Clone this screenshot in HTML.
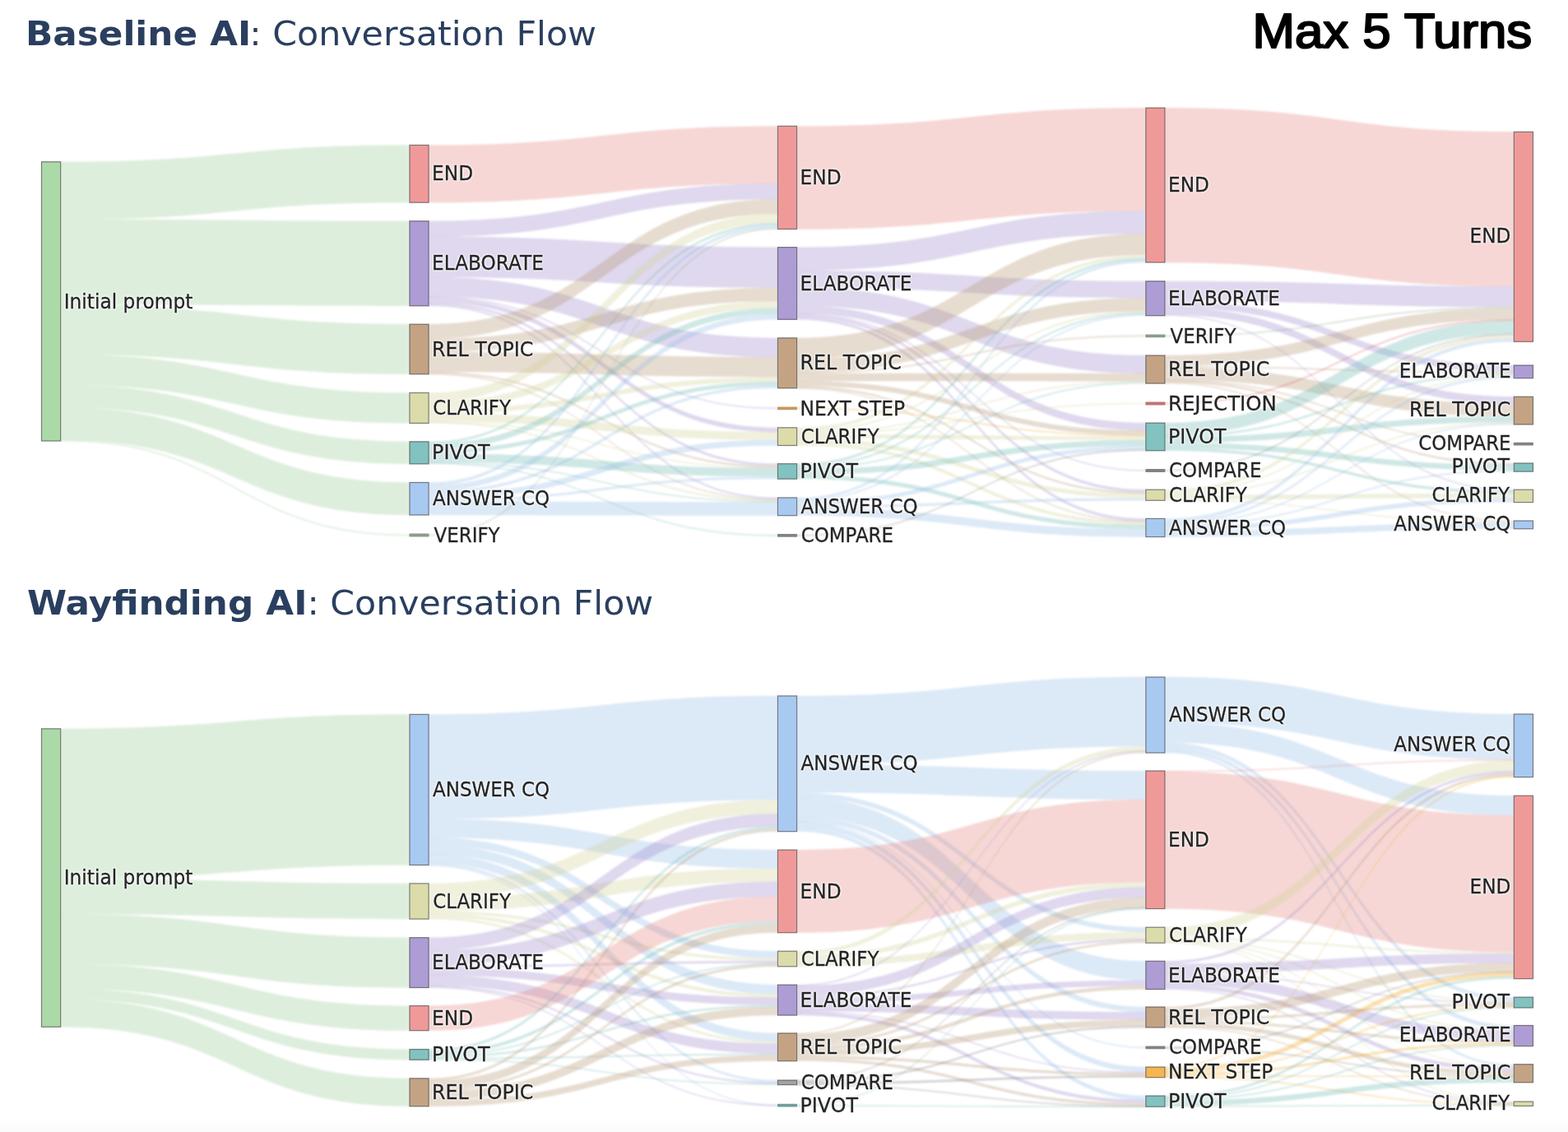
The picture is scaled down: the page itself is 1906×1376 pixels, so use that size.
<!DOCTYPE html>
<html lang="en">
<head>
<meta charset="utf-8">
<title>Conversation Flow</title>
<style>
html,body{margin:0;padding:0;background:#fff}
body{width:1906px;height:1376px;overflow:hidden;position:relative}
svg{position:absolute;left:0;top:0;display:block}
.sl{filter:blur(.8px)}
.sn{filter:blur(.45px)}
.st{filter:drop-shadow(0 0 1.3px #fff) drop-shadow(0 0 1.3px #fff) blur(.4px)}
.softt{filter:blur(.45px)}
.l{fill-opacity:0.32;stroke:none}
.n{stroke:#3a3a3a;stroke-opacity:.62;stroke-width:1.2}
.lb{font-family:"DejaVu Sans","Liberation Sans",sans-serif;font-size:24.2px;fill:#242424;
stroke:#242424;stroke-width:.3px;stroke-linejoin:round}
.tt{font-family:"DejaVu Sans","Liberation Sans",sans-serif;font-size:41.5px;fill:#2a3f5f}
.tb{font-weight:bold}
.mx{font-family:"Liberation Sans",sans-serif;font-weight:normal;font-size:60px;fill:#000;stroke:#000;stroke-width:2.2px;stroke-linejoin:round}
.IP{fill:#98ca95}
.END{fill:#e3827c}
.ELAB{fill:#9b85ca}
.REL{fill:#b4926c}
.CLAR{fill:#d0d095}
.PIV{fill:#69b7b1}
.ACQ{fill:#92bae6}
.VER{fill:#85a485}
.NEXT{fill:#f29e08}
.COMP{fill:#727272}
.REJ{fill:#da4747}
.nIP{fill:#acd9a8}
.nEND{fill:#ef9a98}
.nELAB{fill:#ae9cd5}
.nREL{fill:#c4a385}
.nCLAR{fill:#dcdbaa}
.nPIV{fill:#82c2c0}
.nACQ{fill:#a8c9f0}
.nVER{fill:#9bb09b}
.nNEXT{fill:#f5b651}
.nCOMP{fill:#a3a3a3}
.nREJ{fill:#c9787c}
.tVER{fill:#8a9d8c}
.tNEXT{fill:#c29a5e}
.tCOMP{fill:#828282}
.tREJ{fill:#c27474}
.tPIV{fill:#6f9e9b}
.tCLAR{fill:#b3b28c}
</style>
</head>
<body>
<svg width="1906" height="1376" viewBox="0 0 1906 1376">
<defs><linearGradient id="bg" x1="0" y1="0" x2="0" y2="1"><stop offset="0" stop-color="#fff"/><stop offset="1" stop-color="#fafafa"/></linearGradient></defs>
<rect x="0" y="0" width="1906" height="1376" fill="#fff"/>
<rect x="0" y="1360" width="1906" height="16" fill="url(#bg)"/>

<g id="baseline">
<g class="sl"><path class="l IP" d="M73.7,196.55C285.8,196.55 285.8,176.25 497.9,176.25L497.9,246.35C285.8,246.35 285.8,266.84 73.7,266.84Z"/>
<path class="l IP" d="M73.7,266.54C285.8,266.54 285.8,268.55 497.9,268.55L497.9,371.95C285.8,371.95 285.8,370.21 73.7,370.21Z"/>
<path class="l IP" d="M73.7,369.91C285.8,369.91 285.8,393.95 497.9,393.95L497.9,454.95C285.8,454.95 285.8,431.07 73.7,431.07Z"/>
<path class="l IP" d="M73.7,430.77C285.8,430.77 285.8,477.35 497.9,477.35L497.9,514.55C285.8,514.55 285.8,468.07 73.7,468.07Z"/>
<path class="l IP" d="M73.7,467.77C285.8,467.77 285.8,536.65 497.9,536.65L497.9,564.05C285.8,564.05 285.8,495.24 73.7,495.24Z"/>
<path class="l IP" d="M73.7,494.94C285.8,494.94 285.8,586.35 497.9,586.35L497.9,626.15C285.8,626.15 285.8,534.85 73.7,534.85Z"/>
<path class="l IP" d="M73.7,534.55C285.8,534.55 285.8,649.70 497.9,649.70L497.9,651.30C285.8,651.30 285.8,536.15 73.7,536.15Z"/>
<path class="l END" d="M521.1,176.25C733.3,176.25 733.3,153.15 945.4,153.15L945.4,223.25C733.3,223.25 733.3,246.35 521.1,246.35Z"/>
<path class="l ELAB" d="M521.1,268.55C733.3,268.55 733.3,222.95 945.4,222.95L945.4,242.21C733.3,242.21 733.3,287.80 521.1,287.80Z"/>
<path class="l ELAB" d="M521.1,287.50C733.3,287.50 733.3,300.45 945.4,300.45L945.4,350.05C733.3,350.05 733.3,337.08 521.1,337.08Z"/>
<path class="l ELAB" d="M521.1,336.78C733.3,336.78 733.3,410.65 945.4,410.65L945.4,434.28C733.3,434.28 733.3,360.40 521.1,360.40Z"/>
<path class="l ELAB" d="M521.1,360.10C733.3,360.10 733.3,495.60 945.4,495.60L945.4,497.20C733.3,497.20 733.3,361.70 521.1,361.70Z"/>
<path class="l ELAB" d="M521.1,361.40C733.3,361.40 733.3,519.65 945.4,519.65L945.4,525.49C733.3,525.49 733.3,367.24 521.1,367.24Z"/>
<path class="l ELAB" d="M521.1,366.94C733.3,366.94 733.3,563.55 945.4,563.55L945.4,566.69C733.3,566.69 733.3,370.08 521.1,370.08Z"/>
<path class="l ELAB" d="M521.1,369.78C733.3,369.78 733.3,604.75 945.4,604.75L945.4,606.92C733.3,606.92 733.3,371.95 521.1,371.95Z"/>
<path class="l REL" d="M521.1,393.95C733.3,393.95 733.3,241.91 945.4,241.91L945.4,260.00C733.3,260.00 733.3,412.03 521.1,412.03Z"/>
<path class="l REL" d="M521.1,411.73C733.3,411.73 733.3,349.75 945.4,349.75L945.4,366.02C733.3,366.02 733.3,428.00 521.1,428.00Z"/>
<path class="l REL" d="M521.1,427.70C733.3,427.70 733.3,433.98 945.4,433.98L945.4,458.43C733.3,458.43 733.3,452.14 521.1,452.14Z"/>
<path class="l REL" d="M521.1,451.84C733.3,451.84 733.3,566.39 945.4,566.39L945.4,568.57C733.3,568.57 733.3,454.02 521.1,454.02Z"/>
<path class="l REL" d="M521.1,453.72C733.3,453.72 733.3,606.62 945.4,606.62L945.4,608.12C733.3,608.12 733.3,455.22 521.1,455.22Z"/>
<path class="l CLAR" d="M521.1,477.35C733.3,477.35 733.3,259.70 945.4,259.70L945.4,271.03C733.3,271.03 733.3,488.67 521.1,488.67Z"/>
<path class="l CLAR" d="M521.1,488.37C733.3,488.37 733.3,365.72 945.4,365.72L945.4,374.49C733.3,374.49 733.3,497.15 521.1,497.15Z"/>
<path class="l CLAR" d="M521.1,496.85C733.3,496.85 733.3,458.13 945.4,458.13L945.4,464.13C733.3,464.13 733.3,502.84 521.1,502.84Z"/>
<path class="l CLAR" d="M521.1,502.54C733.3,502.54 733.3,525.19 945.4,525.19L945.4,534.83C733.3,534.83 733.3,512.18 521.1,512.18Z"/>
<path class="l CLAR" d="M521.1,511.88C733.3,511.88 733.3,568.27 945.4,568.27L945.4,569.77C733.3,569.77 733.3,513.38 521.1,513.38Z"/>
<path class="l CLAR" d="M521.1,512.50C733.3,512.50 733.3,607.55 945.4,607.55L945.4,609.60C733.3,609.60 733.3,514.55 521.1,514.55Z"/>
<path class="l PIV" d="M521.1,536.65C733.3,536.65 733.3,270.73 945.4,270.73L945.4,273.67C733.3,273.67 733.3,539.59 521.1,539.59Z"/>
<path class="l PIV" d="M521.1,539.29C733.3,539.29 733.3,374.19 945.4,374.19L945.4,381.75C733.3,381.75 733.3,546.84 521.1,546.84Z"/>
<path class="l PIV" d="M521.1,546.54C733.3,546.54 733.3,463.83 945.4,463.83L945.4,468.83C733.3,468.83 733.3,551.54 521.1,551.54Z"/>
<path class="l PIV" d="M521.1,551.24C733.3,551.24 733.3,568.89 945.4,568.89L945.4,579.44C733.3,579.44 733.3,561.79 521.1,561.79Z"/>
<path class="l PIV" d="M521.1,561.49C733.3,561.49 733.3,609.30 945.4,609.30L945.4,610.80C733.3,610.80 733.3,562.99 521.1,562.99Z"/>
<path class="l PIV" d="M521.1,562.45C733.3,562.45 733.3,650.05 945.4,650.05L945.4,651.65C733.3,651.65 733.3,564.05 521.1,564.05Z"/>
<path class="l ACQ" d="M521.1,586.35C733.3,586.35 733.3,273.37 945.4,273.37L945.4,277.35C733.3,277.35 733.3,590.32 521.1,590.32Z"/>
<path class="l ACQ" d="M521.1,590.02C733.3,590.02 733.3,381.45 945.4,381.45L945.4,388.45C733.3,388.45 733.3,597.02 521.1,597.02Z"/>
<path class="l ACQ" d="M521.1,596.72C733.3,596.72 733.3,468.53 945.4,468.53L945.4,471.95C733.3,471.95 733.3,600.14 521.1,600.14Z"/>
<path class="l ACQ" d="M521.1,599.84C733.3,599.84 733.3,534.53 945.4,534.53L945.4,541.65C733.3,541.65 733.3,606.96 521.1,606.96Z"/>
<path class="l ACQ" d="M521.1,606.66C733.3,606.66 733.3,579.14 945.4,579.14L945.4,582.35C733.3,582.35 733.3,609.87 521.1,609.87Z"/>
<path class="l ACQ" d="M521.1,609.57C733.3,609.57 733.3,610.26 945.4,610.26L945.4,626.85C733.3,626.85 733.3,626.15 521.1,626.15Z"/>
<path class="l VER" d="M521.1,649.70C733.3,649.70 733.3,277.05 945.4,277.05L945.4,278.65C733.3,278.65 733.3,651.30 521.1,651.30Z"/>
<path class="l END" d="M968.6,153.15C1180.7,153.15 1180.7,130.95 1392.8,130.95L1392.8,256.45C1180.7,256.45 1180.7,278.65 968.6,278.65Z"/>
<path class="l ELAB" d="M968.6,300.45C1180.7,300.45 1180.7,256.15 1392.8,256.15L1392.8,284.25C1180.7,284.25 1180.7,328.97 968.6,328.97Z"/>
<path class="l ELAB" d="M968.6,328.67C1180.7,328.67 1180.7,341.65 1392.8,341.65L1392.8,362.33C1180.7,362.33 1180.7,349.46 968.6,349.46Z"/>
<path class="l ELAB" d="M968.6,349.16C1180.7,349.16 1180.7,431.85 1392.8,431.85L1392.8,454.18C1180.7,454.18 1180.7,371.59 968.6,371.59Z"/>
<path class="l ELAB" d="M968.6,371.29C1180.7,371.29 1180.7,513.95 1392.8,513.95L1392.8,523.36C1180.7,523.36 1180.7,380.75 968.6,380.75Z"/>
<path class="l ELAB" d="M968.6,380.45C1180.7,380.45 1180.7,571.20 1392.8,571.20L1392.8,572.80C1180.7,572.80 1180.7,382.06 968.6,382.06Z"/>
<path class="l ELAB" d="M968.6,381.76C1180.7,381.76 1180.7,595.05 1392.8,595.05L1392.8,598.56C1180.7,598.56 1180.7,385.29 968.6,385.29Z"/>
<path class="l ELAB" d="M968.6,384.99C1180.7,384.99 1180.7,630.25 1392.8,630.25L1392.8,633.69C1180.7,633.69 1180.7,388.45 968.6,388.45Z"/>
<path class="l REL" d="M968.6,410.65C1180.7,410.65 1180.7,283.95 1392.8,283.95L1392.8,309.76C1180.7,309.76 1180.7,436.84 968.6,436.84Z"/>
<path class="l REL" d="M968.6,436.54C1180.7,436.54 1180.7,362.03 1392.8,362.03L1392.8,378.16C1180.7,378.16 1180.7,452.75 968.6,452.75Z"/>
<path class="l REL" d="M968.6,452.45C1180.7,452.45 1180.7,407.60 1392.8,407.60L1392.8,409.20C1180.7,409.20 1180.7,454.06 968.6,454.06Z"/>
<path class="l REL" d="M968.6,453.76C1180.7,453.76 1180.7,453.88 1392.8,453.88L1392.8,463.40C1180.7,463.40 1180.7,463.32 968.6,463.32Z"/>
<path class="l REL" d="M968.6,463.02C1180.7,463.02 1180.7,523.06 1392.8,523.06L1392.8,529.25C1180.7,529.25 1180.7,469.25 968.6,469.25Z"/>
<path class="l REL" d="M968.6,468.95C1180.7,468.95 1180.7,598.26 1392.8,598.26L1392.8,600.64C1180.7,600.64 1180.7,471.34 968.6,471.34Z"/>
<path class="l REL" d="M968.6,471.04C1180.7,471.04 1180.7,633.39 1392.8,633.39L1392.8,634.89C1180.7,634.89 1180.7,472.54 968.6,472.54Z"/>
<path class="l NEXT" d="M968.6,495.60C1180.7,495.60 1180.7,528.95 1392.8,528.95L1392.8,530.55C1180.7,530.55 1180.7,497.20 968.6,497.20Z"/>
<path class="l CLAR" d="M968.6,519.65C1180.7,519.65 1180.7,309.46 1392.8,309.46L1392.8,313.45C1180.7,313.45 1180.7,523.69 968.6,523.69Z"/>
<path class="l CLAR" d="M968.6,523.39C1180.7,523.39 1180.7,377.86 1392.8,377.86L1392.8,380.02C1180.7,380.02 1180.7,525.56 968.6,525.56Z"/>
<path class="l CLAR" d="M968.6,525.26C1180.7,525.26 1180.7,463.10 1392.8,463.10L1392.8,464.78C1180.7,464.78 1180.7,526.95 968.6,526.95Z"/>
<path class="l CLAR" d="M968.6,526.65C1180.7,526.65 1180.7,489.70 1392.8,489.70L1392.8,491.30C1180.7,491.30 1180.7,528.26 968.6,528.26Z"/>
<path class="l CLAR" d="M968.6,527.96C1180.7,527.96 1180.7,530.25 1392.8,530.25L1392.8,535.17C1180.7,535.17 1180.7,532.90 968.6,532.90Z"/>
<path class="l CLAR" d="M968.6,532.60C1180.7,532.60 1180.7,600.34 1392.8,600.34L1392.8,605.53C1180.7,605.53 1180.7,537.81 968.6,537.81Z"/>
<path class="l CLAR" d="M968.6,537.51C1180.7,537.51 1180.7,634.01 1392.8,634.01L1392.8,638.13C1180.7,638.13 1180.7,541.65 968.6,541.65Z"/>
<path class="l PIV" d="M968.6,563.55C1180.7,563.55 1180.7,313.15 1392.8,313.15L1392.8,316.39C1180.7,316.39 1180.7,566.84 968.6,566.84Z"/>
<path class="l PIV" d="M968.6,566.54C1180.7,566.54 1180.7,379.72 1392.8,379.72L1392.8,382.00C1180.7,382.00 1180.7,568.83 968.6,568.83Z"/>
<path class="l PIV" d="M968.6,568.53C1180.7,568.53 1180.7,464.48 1392.8,464.48L1392.8,466.25C1180.7,466.25 1180.7,570.31 968.6,570.31Z"/>
<path class="l PIV" d="M968.6,570.01C1180.7,570.01 1180.7,534.87 1392.8,534.87L1392.8,542.05C1180.7,542.05 1180.7,577.23 968.6,577.23Z"/>
<path class="l PIV" d="M968.6,576.93C1180.7,576.93 1180.7,637.83 1392.8,637.83L1392.8,643.22C1180.7,643.22 1180.7,582.35 968.6,582.35Z"/>
<path class="l ACQ" d="M968.6,604.75C1180.7,604.75 1180.7,316.09 1392.8,316.09L1392.8,319.15C1180.7,319.15 1180.7,607.85 968.6,607.85Z"/>
<path class="l ACQ" d="M968.6,607.55C1180.7,607.55 1180.7,381.70 1392.8,381.70L1392.8,383.85C1180.7,383.85 1180.7,609.71 968.6,609.71Z"/>
<path class="l ACQ" d="M968.6,609.41C1180.7,609.41 1180.7,541.75 1392.8,541.75L1392.8,546.65C1180.7,546.65 1180.7,614.34 968.6,614.34Z"/>
<path class="l ACQ" d="M968.6,614.04C1180.7,614.04 1180.7,605.23 1392.8,605.23L1392.8,608.45C1180.7,608.45 1180.7,617.27 968.6,617.27Z"/>
<path class="l ACQ" d="M968.6,616.97C1180.7,616.97 1180.7,642.92 1392.8,642.92L1392.8,652.75C1180.7,652.75 1180.7,626.85 968.6,626.85Z"/>
<path class="l COMP" d="M968.6,650.05C1180.7,650.05 1180.7,546.35 1392.8,546.35L1392.8,547.95C1180.7,547.95 1180.7,651.65 968.6,651.65Z"/>
<path class="l END" d="M1416.0,130.95C1628.2,130.95 1628.2,160.15 1840.3,160.15L1840.3,348.35C1628.2,348.35 1628.2,319.15 1416.0,319.15Z"/>
<path class="l ELAB" d="M1416.0,341.65C1628.2,341.65 1628.2,348.05 1840.3,348.05L1840.3,373.45C1628.2,373.45 1628.2,365.75 1416.0,365.75Z"/>
<path class="l ELAB" d="M1416.0,365.45C1628.2,365.45 1628.2,443.85 1840.3,443.85L1840.3,452.23C1628.2,452.23 1628.2,373.73 1416.0,373.73Z"/>
<path class="l ELAB" d="M1416.0,373.43C1628.2,373.43 1628.2,482.05 1840.3,482.05L1840.3,491.20C1628.2,491.20 1628.2,382.46 1416.0,382.46Z"/>
<path class="l ELAB" d="M1416.0,382.16C1628.2,382.16 1628.2,595.05 1840.3,595.05L1840.3,596.75C1628.2,596.75 1628.2,383.85 1416.0,383.85Z"/>
<path class="l VER" d="M1416.0,407.60C1628.2,407.60 1628.2,373.15 1840.3,373.15L1840.3,374.75C1628.2,374.75 1628.2,409.20 1416.0,409.20Z"/>
<path class="l REL" d="M1416.0,431.85C1628.2,431.85 1628.2,374.45 1840.3,374.45L1840.3,388.60C1628.2,388.60 1628.2,445.28 1416.0,445.28Z"/>
<path class="l REL" d="M1416.0,444.98C1628.2,444.98 1628.2,451.93 1840.3,451.93L1840.3,453.78C1628.2,453.78 1628.2,446.80 1416.0,446.80Z"/>
<path class="l REL" d="M1416.0,446.50C1628.2,446.50 1628.2,490.90 1840.3,490.90L1840.3,506.23C1628.2,506.23 1628.2,461.64 1416.0,461.64Z"/>
<path class="l REL" d="M1416.0,461.34C1628.2,461.34 1628.2,538.80 1840.3,538.80L1840.3,540.40C1628.2,540.40 1628.2,462.92 1416.0,462.92Z"/>
<path class="l REL" d="M1416.0,462.62C1628.2,462.62 1628.2,562.85 1840.3,562.85L1840.3,565.30C1628.2,565.30 1628.2,465.04 1416.0,465.04Z"/>
<path class="l REL" d="M1416.0,464.74C1628.2,464.74 1628.2,632.85 1840.3,632.85L1840.3,634.37C1628.2,634.37 1628.2,466.25 1416.0,466.25Z"/>
<path class="l REJ" d="M1416.0,489.70C1628.2,489.70 1628.2,388.30 1840.3,388.30L1840.3,389.90C1628.2,389.90 1628.2,491.30 1416.0,491.30Z"/>
<path class="l PIV" d="M1416.0,513.95C1628.2,513.95 1628.2,389.60 1840.3,389.60L1840.3,405.87C1628.2,405.87 1628.2,529.38 1416.0,529.38Z"/>
<path class="l PIV" d="M1416.0,529.08C1628.2,529.08 1628.2,453.48 1840.3,453.48L1840.3,455.83C1628.2,455.83 1628.2,531.41 1416.0,531.41Z"/>
<path class="l PIV" d="M1416.0,531.11C1628.2,531.11 1628.2,505.93 1840.3,505.93L1840.3,513.23C1628.2,513.23 1628.2,538.32 1416.0,538.32Z"/>
<path class="l PIV" d="M1416.0,538.02C1628.2,538.02 1628.2,565.00 1840.3,565.00L1840.3,571.76C1628.2,571.76 1628.2,544.69 1416.0,544.69Z"/>
<path class="l PIV" d="M1416.0,544.39C1628.2,544.39 1628.2,596.45 1840.3,596.45L1840.3,600.05C1628.2,600.05 1628.2,547.95 1416.0,547.95Z"/>
<path class="l COMP" d="M1416.0,571.20C1628.2,571.20 1628.2,405.57 1840.3,405.57L1840.3,407.17C1628.2,407.17 1628.2,572.80 1416.0,572.80Z"/>
<path class="l CLAR" d="M1416.0,595.05C1628.2,595.05 1628.2,406.87 1840.3,406.87L1840.3,411.25C1628.2,411.25 1628.2,599.22 1416.0,599.22Z"/>
<path class="l CLAR" d="M1416.0,598.92C1628.2,598.92 1628.2,455.53 1840.3,455.53L1840.3,457.31C1628.2,457.31 1628.2,600.68 1416.0,600.68Z"/>
<path class="l CLAR" d="M1416.0,600.38C1628.2,600.38 1628.2,512.93 1840.3,512.93L1840.3,514.67C1628.2,514.67 1628.2,602.10 1416.0,602.10Z"/>
<path class="l CLAR" d="M1416.0,601.80C1628.2,601.80 1628.2,599.75 1840.3,599.75L1840.3,605.32C1628.2,605.32 1628.2,607.30 1416.0,607.30Z"/>
<path class="l CLAR" d="M1416.0,607.00C1628.2,607.00 1628.2,634.07 1840.3,634.07L1840.3,635.57C1628.2,635.57 1628.2,608.50 1416.0,608.50Z"/>
<path class="l ACQ" d="M1416.0,630.25C1628.2,630.25 1628.2,410.95 1840.3,410.95L1840.3,415.45C1628.2,415.45 1628.2,634.54 1416.0,634.54Z"/>
<path class="l ACQ" d="M1416.0,634.24C1628.2,634.24 1628.2,457.01 1840.3,457.01L1840.3,459.85C1628.2,459.85 1628.2,637.04 1416.0,637.04Z"/>
<path class="l ACQ" d="M1416.0,636.74C1628.2,636.74 1628.2,514.37 1840.3,514.37L1840.3,516.15C1628.2,516.15 1628.2,638.50 1416.0,638.50Z"/>
<path class="l ACQ" d="M1416.0,638.20C1628.2,638.20 1628.2,571.46 1840.3,571.46L1840.3,573.35C1628.2,573.35 1628.2,640.08 1416.0,640.08Z"/>
<path class="l ACQ" d="M1416.0,639.78C1628.2,639.78 1628.2,605.02 1840.3,605.02L1840.3,610.75C1628.2,610.75 1628.2,645.44 1416.0,645.44Z"/>
<path class="l ACQ" d="M1416.0,645.14C1628.2,645.14 1628.2,635.24 1840.3,635.24L1840.3,642.95C1628.2,642.95 1628.2,652.75 1416.0,652.75Z"/></g>
<g class="sn"><rect class="n nIP" x="50.5" y="196.7" width="23.2" height="339.3"/>
<rect class="n nEND" x="497.9" y="176.4" width="23.2" height="69.8"/>
<rect class="n nELAB" x="497.9" y="268.7" width="23.2" height="103.1"/>
<rect class="n nREL" x="497.9" y="394.1" width="23.2" height="60.7"/>
<rect class="n nCLAR" x="497.9" y="477.5" width="23.2" height="36.9"/>
<rect class="n nPIV" x="497.9" y="536.8" width="23.2" height="27.1"/>
<rect class="n nACQ" x="497.9" y="586.5" width="23.2" height="39.5"/>
<rect class="tVER" x="497.4" y="648.6" width="24.2" height="3.8" rx="1"/>
<rect class="n nEND" x="945.4" y="153.3" width="23.2" height="125.2"/>
<rect class="n nELAB" x="945.4" y="300.6" width="23.2" height="87.7"/>
<rect class="n nREL" x="945.4" y="410.8" width="23.2" height="61.0"/>
<rect class="tNEXT" x="944.9" y="494.5" width="24.2" height="3.8" rx="1"/>
<rect class="n nCLAR" x="945.4" y="519.8" width="23.2" height="21.7"/>
<rect class="n nPIV" x="945.4" y="563.7" width="23.2" height="18.5"/>
<rect class="n nACQ" x="945.4" y="604.9" width="23.2" height="21.8"/>
<rect class="tCOMP" x="944.9" y="649.0" width="24.2" height="3.8" rx="1"/>
<rect class="n nEND" x="1392.8" y="131.1" width="23.2" height="187.9"/>
<rect class="n nELAB" x="1392.8" y="341.8" width="23.2" height="41.9"/>
<rect class="tVER" x="1392.3" y="406.5" width="24.2" height="3.8" rx="1"/>
<rect class="n nREL" x="1392.8" y="432.0" width="23.2" height="34.1"/>
<rect class="tREJ" x="1392.3" y="488.6" width="24.2" height="3.8" rx="1"/>
<rect class="n nPIV" x="1392.8" y="514.1" width="23.2" height="33.7"/>
<rect class="tCOMP" x="1392.3" y="570.1" width="24.2" height="3.8" rx="1"/>
<rect class="n nCLAR" x="1392.8" y="595.2" width="23.2" height="13.1"/>
<rect class="n nACQ" x="1392.8" y="630.4" width="23.2" height="22.2"/>
<rect class="n nEND" x="1840.3" y="160.3" width="23.2" height="255.0"/>
<rect class="n nELAB" x="1840.3" y="444.0" width="23.2" height="15.7"/>
<rect class="n nREL" x="1840.3" y="482.2" width="23.2" height="33.8"/>
<rect class="tCOMP" x="1839.8" y="537.7" width="24.2" height="3.8" rx="1"/>
<rect class="n nPIV" x="1840.3" y="563.0" width="23.2" height="10.2"/>
<rect class="n nCLAR" x="1840.3" y="595.2" width="23.2" height="15.4"/>
<rect class="n nACQ" x="1840.3" y="633.0" width="23.2" height="9.8"/></g>
<g class="st"><text class="lb" x="77.7" y="374.5" textLength="156.7" lengthAdjust="spacingAndGlyphs">Initial prompt</text>
<text class="lb" x="525.1" y="219.4" textLength="50.0" lengthAdjust="spacingAndGlyphs">END</text>
<text class="lb" x="525.1" y="328.4" textLength="135.8" lengthAdjust="spacingAndGlyphs">ELABORATE</text>
<text class="lb" x="525.1" y="432.6" textLength="123.3" lengthAdjust="spacingAndGlyphs">REL TOPIC</text>
<text class="lb" x="526.2" y="504.1" textLength="94.7" lengthAdjust="spacingAndGlyphs">CLARIFY</text>
<text class="lb" x="525.1" y="558.4" textLength="70.5" lengthAdjust="spacingAndGlyphs">PIVOT</text>
<text class="lb" x="526.1" y="614.4" textLength="142.1" lengthAdjust="spacingAndGlyphs">ANSWER CQ</text>
<text class="lb" x="527.6" y="658.6" textLength="80.0" lengthAdjust="spacingAndGlyphs">VERIFY</text>
<text class="lb" x="972.6" y="224.0" textLength="50.0" lengthAdjust="spacingAndGlyphs">END</text>
<text class="lb" x="972.6" y="352.6" textLength="135.8" lengthAdjust="spacingAndGlyphs">ELABORATE</text>
<text class="lb" x="972.5" y="449.4" textLength="123.3" lengthAdjust="spacingAndGlyphs">REL TOPIC</text>
<text class="lb" x="972.6" y="504.5" textLength="127.4" lengthAdjust="spacingAndGlyphs">NEXT STEP</text>
<text class="lb" x="973.7" y="538.8" textLength="94.7" lengthAdjust="spacingAndGlyphs">CLARIFY</text>
<text class="lb" x="972.5" y="581.1" textLength="70.5" lengthAdjust="spacingAndGlyphs">PIVOT</text>
<text class="lb" x="973.5" y="623.9" textLength="142.1" lengthAdjust="spacingAndGlyphs">ANSWER CQ</text>
<text class="lb" x="973.7" y="659.0" textLength="112.3" lengthAdjust="spacingAndGlyphs">COMPARE</text>
<text class="lb" x="1420.0" y="233.2" textLength="50.0" lengthAdjust="spacingAndGlyphs">END</text>
<text class="lb" x="1420.0" y="370.9" textLength="135.8" lengthAdjust="spacingAndGlyphs">ELABORATE</text>
<text class="lb" x="1422.5" y="416.5" textLength="80.0" lengthAdjust="spacingAndGlyphs">VERIFY</text>
<text class="lb" x="1420.0" y="457.2" textLength="123.3" lengthAdjust="spacingAndGlyphs">REL TOPIC</text>
<text class="lb" x="1419.9" y="498.6" textLength="132.0" lengthAdjust="spacingAndGlyphs">REJECTION</text>
<text class="lb" x="1420.0" y="539.1" textLength="70.5" lengthAdjust="spacingAndGlyphs">PIVOT</text>
<text class="lb" x="1421.1" y="580.1" textLength="112.3" lengthAdjust="spacingAndGlyphs">COMPARE</text>
<text class="lb" x="1421.1" y="609.9" textLength="94.7" lengthAdjust="spacingAndGlyphs">CLARIFY</text>
<text class="lb" x="1421.0" y="649.6" textLength="142.1" lengthAdjust="spacingAndGlyphs">ANSWER CQ</text>
<text class="lb" x="1786.5" y="294.9" textLength="50.0" lengthAdjust="spacingAndGlyphs">END</text>
<text class="lb" x="1700.8" y="459.0" textLength="135.8" lengthAdjust="spacingAndGlyphs">ELABORATE</text>
<text class="lb" x="1713.1" y="506.2" textLength="123.3" lengthAdjust="spacingAndGlyphs">REL TOPIC</text>
<text class="lb" x="1724.3" y="546.7" textLength="112.3" lengthAdjust="spacingAndGlyphs">COMPARE</text>
<text class="lb" x="1764.6" y="575.2" textLength="70.5" lengthAdjust="spacingAndGlyphs">PIVOT</text>
<text class="lb" x="1740.4" y="610.0" textLength="94.7" lengthAdjust="spacingAndGlyphs">CLARIFY</text>
<text class="lb" x="1694.3" y="645.0" textLength="142.1" lengthAdjust="spacingAndGlyphs">ANSWER CQ</text></g>
</g>
<g id="wayfinding">
<g class="sl"><path class="l IP" d="M73.7,885.65C285.8,885.65 285.8,868.25 497.9,868.25L497.9,1051.65C285.8,1051.65 285.8,1068.30 73.7,1068.30Z"/>
<path class="l IP" d="M73.7,1068.00C285.8,1068.00 285.8,1073.75 497.9,1073.75L497.9,1117.25C285.8,1117.25 285.8,1111.32 73.7,1111.32Z"/>
<path class="l IP" d="M73.7,1111.02C285.8,1111.02 285.8,1139.55 497.9,1139.55L497.9,1200.65C285.8,1200.65 285.8,1171.87 73.7,1171.87Z"/>
<path class="l IP" d="M73.7,1171.57C285.8,1171.57 285.8,1222.45 497.9,1222.45L497.9,1252.85C285.8,1252.85 285.8,1201.84 73.7,1201.84Z"/>
<path class="l IP" d="M73.7,1201.54C285.8,1201.54 285.8,1275.35 497.9,1275.35L497.9,1288.45C285.8,1288.45 285.8,1214.59 73.7,1214.59Z"/>
<path class="l IP" d="M73.7,1214.29C285.8,1214.29 285.8,1310.65 497.9,1310.65L497.9,1344.95C285.8,1344.95 285.8,1248.45 73.7,1248.45Z"/>
<path class="l ACQ" d="M521.1,868.25C733.3,868.25 733.3,845.75 945.4,845.75L945.4,972.20C733.3,972.20 733.3,995.50 521.1,995.50Z"/>
<path class="l ACQ" d="M521.1,995.20C733.3,995.20 733.3,1032.95 945.4,1032.95L945.4,1055.69C733.3,1055.69 733.3,1018.14 521.1,1018.14Z"/>
<path class="l ACQ" d="M521.1,1017.84C733.3,1017.84 733.3,1156.05 945.4,1156.05L945.4,1165.16C733.3,1165.16 733.3,1027.01 521.1,1027.01Z"/>
<path class="l ACQ" d="M521.1,1026.71C733.3,1026.71 733.3,1196.95 945.4,1196.95L945.4,1208.55C733.3,1208.55 733.3,1038.38 521.1,1038.38Z"/>
<path class="l ACQ" d="M521.1,1038.08C733.3,1038.08 733.3,1255.75 945.4,1255.75L945.4,1266.22C733.3,1266.22 733.3,1048.61 521.1,1048.61Z"/>
<path class="l ACQ" d="M521.1,1048.31C733.3,1048.31 733.3,1312.85 945.4,1312.85L945.4,1315.84C733.3,1315.84 733.3,1051.33 521.1,1051.33Z"/>
<path class="l ACQ" d="M521.1,1051.03C733.3,1051.03 733.3,1342.80 945.4,1342.80L945.4,1344.30C733.3,1344.30 733.3,1052.53 521.1,1052.53Z"/>
<path class="l CLAR" d="M521.1,1073.75C733.3,1073.75 733.3,971.90 945.4,971.90L945.4,989.25C733.3,989.25 733.3,1091.21 521.1,1091.21Z"/>
<path class="l CLAR" d="M521.1,1090.91C733.3,1090.91 733.3,1055.39 945.4,1055.39L945.4,1071.71C733.3,1071.71 733.3,1107.37 521.1,1107.37Z"/>
<path class="l CLAR" d="M521.1,1107.07C733.3,1107.07 733.3,1164.86 945.4,1164.86L945.4,1168.33C733.3,1168.33 733.3,1110.56 521.1,1110.56Z"/>
<path class="l CLAR" d="M521.1,1110.26C733.3,1110.26 733.3,1208.25 945.4,1208.25L945.4,1212.52C733.3,1212.52 733.3,1114.56 521.1,1114.56Z"/>
<path class="l CLAR" d="M521.1,1114.26C733.3,1114.26 733.3,1265.92 945.4,1265.92L945.4,1268.89C733.3,1268.89 733.3,1117.25 521.1,1117.25Z"/>
<path class="l ELAB" d="M521.1,1139.55C733.3,1139.55 733.3,988.95 945.4,988.95L945.4,1004.74C733.3,1004.74 733.3,1155.44 521.1,1155.44Z"/>
<path class="l ELAB" d="M521.1,1155.14C733.3,1155.14 733.3,1071.41 945.4,1071.41L945.4,1089.96C733.3,1089.96 733.3,1173.85 521.1,1173.85Z"/>
<path class="l ELAB" d="M521.1,1173.55C733.3,1173.55 733.3,1168.03 945.4,1168.03L945.4,1170.70C733.3,1170.70 733.3,1176.24 521.1,1176.24Z"/>
<path class="l ELAB" d="M521.1,1175.94C733.3,1175.94 733.3,1212.22 945.4,1212.22L945.4,1221.86C733.3,1221.86 733.3,1185.63 521.1,1185.63Z"/>
<path class="l ELAB" d="M521.1,1185.33C733.3,1185.33 733.3,1268.59 945.4,1268.59L945.4,1281.02C733.3,1281.02 733.3,1197.84 521.1,1197.84Z"/>
<path class="l ELAB" d="M521.1,1197.54C733.3,1197.54 733.3,1315.54 945.4,1315.54L945.4,1317.66C733.3,1317.66 733.3,1199.67 521.1,1199.67Z"/>
<path class="l ELAB" d="M521.1,1199.37C733.3,1199.37 733.3,1343.12 945.4,1343.12L945.4,1344.62C733.3,1344.62 733.3,1200.87 521.1,1200.87Z"/>
<path class="l END" d="M521.1,1222.45C733.3,1222.45 733.3,1089.66 945.4,1089.66L945.4,1120.06C733.3,1120.06 733.3,1252.85 521.1,1252.85Z"/>
<path class="l PIV" d="M521.1,1275.35C733.3,1275.35 733.3,1004.44 945.4,1004.44L945.4,1007.81C733.3,1007.81 733.3,1278.74 521.1,1278.74Z"/>
<path class="l PIV" d="M521.1,1278.44C733.3,1278.44 733.3,1119.76 945.4,1119.76L945.4,1123.68C733.3,1123.68 733.3,1282.40 521.1,1282.40Z"/>
<path class="l PIV" d="M521.1,1282.10C733.3,1282.10 733.3,1170.40 945.4,1170.40L945.4,1172.13C733.3,1172.13 733.3,1283.84 521.1,1283.84Z"/>
<path class="l PIV" d="M521.1,1283.54C733.3,1283.54 733.3,1221.56 945.4,1221.56L945.4,1223.94C733.3,1223.94 733.3,1285.93 521.1,1285.93Z"/>
<path class="l PIV" d="M521.1,1285.63C733.3,1285.63 733.3,1280.72 945.4,1280.72L945.4,1282.43C733.3,1282.43 733.3,1287.35 521.1,1287.35Z"/>
<path class="l PIV" d="M521.1,1287.05C733.3,1287.05 733.3,1317.36 945.4,1317.36L945.4,1318.86C733.3,1318.86 733.3,1288.55 521.1,1288.55Z"/>
<path class="l REL" d="M521.1,1310.65C733.3,1310.65 733.3,1007.51 945.4,1007.51L945.4,1010.85C733.3,1010.85 733.3,1314.01 521.1,1314.01Z"/>
<path class="l REL" d="M521.1,1313.71C733.3,1313.71 733.3,1123.38 945.4,1123.38L945.4,1133.85C733.3,1133.85 733.3,1324.27 521.1,1324.27Z"/>
<path class="l REL" d="M521.1,1323.97C733.3,1323.97 733.3,1171.83 945.4,1171.83L945.4,1174.95C733.3,1174.95 733.3,1327.11 521.1,1327.11Z"/>
<path class="l REL" d="M521.1,1326.81C733.3,1326.81 733.3,1223.64 945.4,1223.64L945.4,1234.25C733.3,1234.25 733.3,1337.48 521.1,1337.48Z"/>
<path class="l REL" d="M521.1,1337.18C733.3,1337.18 733.3,1282.13 945.4,1282.13L945.4,1289.85C733.3,1289.85 733.3,1344.95 521.1,1344.95Z"/>
<path class="l ACQ" d="M968.6,845.75C1180.7,845.75 1180.7,822.85 1392.8,822.85L1392.8,907.36C1180.7,907.36 1180.7,929.45 968.6,929.45Z"/>
<path class="l ACQ" d="M968.6,929.15C1180.7,929.15 1180.7,936.85 1392.8,936.85L1392.8,971.99C1180.7,971.99 1180.7,963.45 968.6,963.45Z"/>
<path class="l ACQ" d="M968.6,963.15C1180.7,963.15 1180.7,1127.05 1392.8,1127.05L1392.8,1133.42C1180.7,1133.42 1180.7,969.46 968.6,969.46Z"/>
<path class="l ACQ" d="M968.6,969.16C1180.7,969.16 1180.7,1168.15 1392.8,1168.15L1392.8,1191.71C1180.7,1191.71 1180.7,992.49 968.6,992.49Z"/>
<path class="l ACQ" d="M968.6,992.19C1180.7,992.19 1180.7,1223.85 1392.8,1223.85L1392.8,1230.33C1180.7,1230.33 1180.7,998.62 968.6,998.62Z"/>
<path class="l ACQ" d="M968.6,998.32C1180.7,998.32 1180.7,1272.55 1392.8,1272.55L1392.8,1274.15C1180.7,1274.15 1180.7,999.91 968.6,999.91Z"/>
<path class="l ACQ" d="M968.6,999.61C1180.7,999.61 1180.7,1296.85 1392.8,1296.85L1392.8,1303.36C1180.7,1303.36 1180.7,1006.06 968.6,1006.06Z"/>
<path class="l ACQ" d="M968.6,1005.76C1180.7,1005.76 1180.7,1331.85 1392.8,1331.85L1392.8,1336.99C1180.7,1336.99 1180.7,1010.85 968.6,1010.85Z"/>
<path class="l END" d="M968.6,1032.95C1180.7,1032.95 1180.7,971.69 1392.8,971.69L1392.8,1072.59C1180.7,1072.59 1180.7,1133.85 968.6,1133.85Z"/>
<path class="l CLAR" d="M968.6,1156.05C1180.7,1156.05 1180.7,907.06 1392.8,907.06L1392.8,912.32C1180.7,912.32 1180.7,1161.26 968.6,1161.26Z"/>
<path class="l CLAR" d="M968.6,1160.96C1180.7,1160.96 1180.7,1072.29 1392.8,1072.29L1392.8,1078.49C1180.7,1078.49 1180.7,1167.02 968.6,1167.02Z"/>
<path class="l CLAR" d="M968.6,1166.72C1180.7,1166.72 1180.7,1133.12 1392.8,1133.12L1392.8,1141.42C1180.7,1141.42 1180.7,1174.95 968.6,1174.95Z"/>
<path class="l ELAB" d="M968.6,1196.95C1180.7,1196.95 1180.7,912.02 1392.8,912.02L1392.8,913.72C1180.7,913.72 1180.7,1198.63 968.6,1198.63Z"/>
<path class="l ELAB" d="M968.6,1198.33C1180.7,1198.33 1180.7,1078.19 1392.8,1078.19L1392.8,1091.01C1180.7,1091.01 1180.7,1210.85 968.6,1210.85Z"/>
<path class="l ELAB" d="M968.6,1210.55C1180.7,1210.55 1180.7,1141.12 1392.8,1141.12L1392.8,1143.77C1180.7,1143.77 1180.7,1213.18 968.6,1213.18Z"/>
<path class="l ELAB" d="M968.6,1212.88C1180.7,1212.88 1180.7,1191.41 1392.8,1191.41L1392.8,1198.43C1180.7,1198.43 1180.7,1219.84 968.6,1219.84Z"/>
<path class="l ELAB" d="M968.6,1219.54C1180.7,1219.54 1180.7,1230.03 1392.8,1230.03L1392.8,1239.91C1180.7,1239.91 1180.7,1229.33 968.6,1229.33Z"/>
<path class="l ELAB" d="M968.6,1229.03C1180.7,1229.03 1180.7,1303.06 1392.8,1303.06L1392.8,1304.56C1180.7,1304.56 1180.7,1230.53 968.6,1230.53Z"/>
<path class="l ELAB" d="M968.6,1229.99C1180.7,1229.99 1180.7,1336.69 1392.8,1336.69L1392.8,1340.99C1180.7,1340.99 1180.7,1234.25 968.6,1234.25Z"/>
<path class="l REL" d="M968.6,1255.75C1180.7,1255.75 1180.7,913.42 1392.8,913.42L1392.8,915.25C1180.7,915.25 1180.7,1257.57 968.6,1257.57Z"/>
<path class="l REL" d="M968.6,1257.27C1180.7,1257.27 1180.7,1090.71 1392.8,1090.71L1392.8,1103.17C1180.7,1103.17 1180.7,1269.44 968.6,1269.44Z"/>
<path class="l REL" d="M968.6,1269.14C1180.7,1269.14 1180.7,1143.47 1392.8,1143.47L1392.8,1146.35C1180.7,1146.35 1180.7,1271.99 968.6,1271.99Z"/>
<path class="l REL" d="M968.6,1271.69C1180.7,1271.69 1180.7,1198.13 1392.8,1198.13L1392.8,1202.65C1180.7,1202.65 1180.7,1276.17 968.6,1276.17Z"/>
<path class="l REL" d="M968.6,1275.87C1180.7,1275.87 1180.7,1239.61 1392.8,1239.61L1392.8,1247.27C1180.7,1247.27 1180.7,1283.45 968.6,1283.45Z"/>
<path class="l REL" d="M968.6,1283.15C1180.7,1283.15 1180.7,1304.02 1392.8,1304.02L1392.8,1307.49C1180.7,1307.49 1180.7,1286.59 968.6,1286.59Z"/>
<path class="l REL" d="M968.6,1286.29C1180.7,1286.29 1180.7,1340.69 1392.8,1340.69L1392.8,1344.28C1180.7,1344.28 1180.7,1289.85 968.6,1289.85Z"/>
<path class="l COMP" d="M968.6,1312.85C1180.7,1312.85 1180.7,1102.87 1392.8,1102.87L1392.8,1104.37C1180.7,1104.37 1180.7,1314.35 968.6,1314.35Z"/>
<path class="l COMP" d="M968.6,1313.76C1180.7,1313.76 1180.7,1246.97 1392.8,1246.97L1392.8,1249.15C1180.7,1249.15 1180.7,1315.93 968.6,1315.93Z"/>
<path class="l COMP" d="M968.6,1315.63C1180.7,1315.63 1180.7,1307.19 1392.8,1307.19L1392.8,1309.85C1180.7,1309.85 1180.7,1318.26 968.6,1318.26Z"/>
<path class="l COMP" d="M968.6,1317.96C1180.7,1317.96 1180.7,1343.98 1392.8,1343.98L1392.8,1345.48C1180.7,1345.48 1180.7,1319.46 968.6,1319.46Z"/>
<path class="l PIV" d="M968.6,1342.80C1180.7,1342.80 1180.7,1103.80 1392.8,1103.80L1392.8,1105.30C1180.7,1105.30 1180.7,1344.30 968.6,1344.30Z"/>
<path class="l PIV" d="M968.6,1343.43C1180.7,1343.43 1180.7,1344.47 1392.8,1344.47L1392.8,1345.97C1180.7,1345.97 1180.7,1344.93 968.6,1344.93Z"/>
<path class="l ACQ" d="M1416.0,822.85C1628.2,822.85 1628.2,867.85 1840.3,867.85L1840.3,923.41C1628.2,923.41 1628.2,878.50 1416.0,878.50Z"/>
<path class="l ACQ" d="M1416.0,878.20C1628.2,878.20 1628.2,967.05 1840.3,967.05L1840.3,991.35C1628.2,991.35 1628.2,902.55 1416.0,902.55Z"/>
<path class="l ACQ" d="M1416.0,902.25C1628.2,902.25 1628.2,1211.95 1840.3,1211.95L1840.3,1217.18C1628.2,1217.18 1628.2,907.49 1416.0,907.49Z"/>
<path class="l ACQ" d="M1416.0,907.19C1628.2,907.19 1628.2,1246.35 1840.3,1246.35L1840.3,1251.59C1628.2,1251.59 1628.2,912.43 1416.0,912.43Z"/>
<path class="l ACQ" d="M1416.0,912.13C1628.2,912.13 1628.2,1293.55 1840.3,1293.55L1840.3,1296.67C1628.2,1296.67 1628.2,915.25 1416.0,915.25Z"/>
<path class="l END" d="M1416.0,936.85C1628.2,936.85 1628.2,923.11 1840.3,923.11L1840.3,924.63C1628.2,924.63 1628.2,938.37 1416.0,938.37Z"/>
<path class="l END" d="M1416.0,938.07C1628.2,938.07 1628.2,991.05 1840.3,991.05L1840.3,1157.46C1628.2,1157.46 1628.2,1104.75 1416.0,1104.75Z"/>
<path class="l CLAR" d="M1416.0,1127.05C1628.2,1127.05 1628.2,924.33 1840.3,924.33L1840.3,937.07C1628.2,937.07 1628.2,1139.81 1416.0,1139.81Z"/>
<path class="l CLAR" d="M1416.0,1139.51C1628.2,1139.51 1628.2,1157.16 1840.3,1157.16L1840.3,1159.24C1628.2,1159.24 1628.2,1141.59 1416.0,1141.59Z"/>
<path class="l CLAR" d="M1416.0,1141.29C1628.2,1141.29 1628.2,1216.88 1840.3,1216.88L1840.3,1218.45C1628.2,1218.45 1628.2,1142.86 1416.0,1142.86Z"/>
<path class="l CLAR" d="M1416.0,1142.56C1628.2,1142.56 1628.2,1251.29 1840.3,1251.29L1840.3,1252.85C1628.2,1252.85 1628.2,1144.13 1416.0,1144.13Z"/>
<path class="l CLAR" d="M1416.0,1143.83C1628.2,1143.83 1628.2,1296.37 1840.3,1296.37L1840.3,1297.87C1628.2,1297.87 1628.2,1145.33 1416.0,1145.33Z"/>
<path class="l CLAR" d="M1416.0,1145.03C1628.2,1145.03 1628.2,1338.85 1840.3,1338.85L1840.3,1340.35C1628.2,1340.35 1628.2,1146.53 1416.0,1146.53Z"/>
<path class="l ELAB" d="M1416.0,1168.15C1628.2,1168.15 1628.2,936.77 1840.3,936.77L1840.3,940.21C1628.2,940.21 1628.2,1171.60 1416.0,1171.60Z"/>
<path class="l ELAB" d="M1416.0,1171.30C1628.2,1171.30 1628.2,1158.94 1840.3,1158.94L1840.3,1170.66C1628.2,1170.66 1628.2,1183.04 1416.0,1183.04Z"/>
<path class="l ELAB" d="M1416.0,1182.74C1628.2,1182.74 1628.2,1218.15 1840.3,1218.15L1840.3,1219.78C1628.2,1219.78 1628.2,1184.37 1416.0,1184.37Z"/>
<path class="l ELAB" d="M1416.0,1184.07C1628.2,1184.07 1628.2,1252.55 1840.3,1252.55L1840.3,1265.15C1628.2,1265.15 1628.2,1196.70 1416.0,1196.70Z"/>
<path class="l ELAB" d="M1416.0,1196.40C1628.2,1196.40 1628.2,1297.57 1840.3,1297.57L1840.3,1302.74C1628.2,1302.74 1628.2,1201.58 1416.0,1201.58Z"/>
<path class="l ELAB" d="M1416.0,1201.28C1628.2,1201.28 1628.2,1339.87 1840.3,1339.87L1840.3,1341.37C1628.2,1341.37 1628.2,1202.78 1416.0,1202.78Z"/>
<path class="l REL" d="M1416.0,1223.85C1628.2,1223.85 1628.2,939.91 1840.3,939.91L1840.3,943.40C1628.2,943.40 1628.2,1227.34 1416.0,1227.34Z"/>
<path class="l REL" d="M1416.0,1227.04C1628.2,1227.04 1628.2,1170.36 1840.3,1170.36L1840.3,1181.20C1628.2,1181.20 1628.2,1237.90 1416.0,1237.90Z"/>
<path class="l REL" d="M1416.0,1237.60C1628.2,1237.60 1628.2,1219.48 1840.3,1219.48L1840.3,1222.38C1628.2,1222.38 1628.2,1240.50 1416.0,1240.50Z"/>
<path class="l REL" d="M1416.0,1240.20C1628.2,1240.20 1628.2,1264.85 1840.3,1264.85L1840.3,1267.76C1628.2,1267.76 1628.2,1243.11 1416.0,1243.11Z"/>
<path class="l REL" d="M1416.0,1242.81C1628.2,1242.81 1628.2,1302.44 1840.3,1302.44L1840.3,1307.69C1628.2,1307.69 1628.2,1248.06 1416.0,1248.06Z"/>
<path class="l REL" d="M1416.0,1247.76C1628.2,1247.76 1628.2,1340.94 1840.3,1340.94L1840.3,1342.44C1628.2,1342.44 1628.2,1249.26 1416.0,1249.26Z"/>
<path class="l COMP" d="M1416.0,1272.55C1628.2,1272.55 1628.2,1180.90 1840.3,1180.90L1840.3,1182.40C1628.2,1182.40 1628.2,1274.05 1416.0,1274.05Z"/>
<path class="l COMP" d="M1416.0,1273.22C1628.2,1273.22 1628.2,1307.39 1840.3,1307.39L1840.3,1308.89C1628.2,1308.89 1628.2,1274.72 1416.0,1274.72Z"/>
<path class="l NEXT" d="M1416.0,1296.85C1628.2,1296.85 1628.2,943.10 1840.3,943.10L1840.3,944.75C1628.2,944.75 1628.2,1298.50 1416.0,1298.50Z"/>
<path class="l NEXT" d="M1416.0,1298.20C1628.2,1298.20 1628.2,1181.57 1840.3,1181.57L1840.3,1187.02C1628.2,1187.02 1628.2,1303.66 1416.0,1303.66Z"/>
<path class="l NEXT" d="M1416.0,1303.36C1628.2,1303.36 1628.2,1222.08 1840.3,1222.08L1840.3,1223.70C1628.2,1223.70 1628.2,1304.98 1416.0,1304.98Z"/>
<path class="l NEXT" d="M1416.0,1304.68C1628.2,1304.68 1628.2,1267.46 1840.3,1267.46L1840.3,1270.30C1628.2,1270.30 1628.2,1307.53 1416.0,1307.53Z"/>
<path class="l NEXT" d="M1416.0,1307.23C1628.2,1307.23 1628.2,1308.02 1840.3,1308.02L1840.3,1309.57C1628.2,1309.57 1628.2,1308.79 1416.0,1308.79Z"/>
<path class="l NEXT" d="M1416.0,1308.49C1628.2,1308.49 1628.2,1342.02 1840.3,1342.02L1840.3,1343.52C1628.2,1343.52 1628.2,1309.99 1416.0,1309.99Z"/>
<path class="l PIV" d="M1416.0,1331.85C1628.2,1331.85 1628.2,1186.72 1840.3,1186.72L1840.3,1189.85C1628.2,1189.85 1628.2,1334.99 1416.0,1334.99Z"/>
<path class="l PIV" d="M1416.0,1334.69C1628.2,1334.69 1628.2,1223.40 1840.3,1223.40L1840.3,1225.15C1628.2,1225.15 1628.2,1336.44 1416.0,1336.44Z"/>
<path class="l PIV" d="M1416.0,1336.14C1628.2,1336.14 1628.2,1270.00 1840.3,1270.00L1840.3,1271.75C1628.2,1271.75 1628.2,1337.90 1416.0,1337.90Z"/>
<path class="l PIV" d="M1416.0,1337.60C1628.2,1337.60 1628.2,1309.27 1840.3,1309.27L1840.3,1315.95C1628.2,1315.95 1628.2,1344.28 1416.0,1344.28Z"/>
<path class="l PIV" d="M1416.0,1343.98C1628.2,1343.98 1628.2,1343.08 1840.3,1343.08L1840.3,1344.58C1628.2,1344.58 1628.2,1345.48 1416.0,1345.48Z"/></g>
<g class="sn"><rect class="n nIP" x="50.5" y="885.8" width="23.2" height="362.5"/>
<rect class="n nACQ" x="497.9" y="868.4" width="23.2" height="183.1"/>
<rect class="n nCLAR" x="497.9" y="1073.9" width="23.2" height="43.2"/>
<rect class="n nELAB" x="497.9" y="1139.7" width="23.2" height="60.8"/>
<rect class="n nEND" x="497.9" y="1222.6" width="23.2" height="30.1"/>
<rect class="n nPIV" x="497.9" y="1275.5" width="23.2" height="12.8"/>
<rect class="n nREL" x="497.9" y="1310.8" width="23.2" height="34.0"/>
<rect class="n nACQ" x="945.4" y="845.9" width="23.2" height="164.8"/>
<rect class="n nEND" x="945.4" y="1033.1" width="23.2" height="100.6"/>
<rect class="n nCLAR" x="945.4" y="1156.2" width="23.2" height="18.6"/>
<rect class="n nELAB" x="945.4" y="1197.1" width="23.2" height="37.0"/>
<rect class="n nREL" x="945.4" y="1255.9" width="23.2" height="33.8"/>
<rect class="n nCOMP" x="945.4" y="1313.0" width="23.2" height="5.6"/>
<rect class="tPIV" x="944.9" y="1341.7" width="24.2" height="3.8" rx="1"/>
<rect class="n nACQ" x="1392.8" y="823.0" width="23.2" height="92.1"/>
<rect class="n nEND" x="1392.8" y="937.0" width="23.2" height="167.6"/>
<rect class="n nCLAR" x="1392.8" y="1127.2" width="23.2" height="19.0"/>
<rect class="n nELAB" x="1392.8" y="1168.3" width="23.2" height="34.2"/>
<rect class="n nREL" x="1392.8" y="1224.0" width="23.2" height="25.0"/>
<rect class="tCOMP" x="1392.3" y="1271.4" width="24.2" height="3.8" rx="1"/>
<rect class="n nNEXT" x="1392.8" y="1297.0" width="23.2" height="12.7"/>
<rect class="n nPIV" x="1392.8" y="1332.0" width="23.2" height="13.3"/>
<rect class="n nACQ" x="1840.3" y="868.0" width="23.2" height="76.6"/>
<rect class="n nEND" x="1840.3" y="967.2" width="23.2" height="222.5"/>
<rect class="n nPIV" x="1840.3" y="1212.1" width="23.2" height="12.9"/>
<rect class="n nELAB" x="1840.3" y="1246.5" width="23.2" height="25.1"/>
<rect class="n nREL" x="1840.3" y="1293.7" width="23.2" height="22.1"/>
<rect class="n nCLAR" x="1840.3" y="1339.0" width="23.2" height="5.4"/></g>
<g class="st"><text class="lb" x="77.7" y="1075.1" textLength="156.7" lengthAdjust="spacingAndGlyphs">Initial prompt</text>
<text class="lb" x="526.1" y="968.1" textLength="142.1" lengthAdjust="spacingAndGlyphs">ANSWER CQ</text>
<text class="lb" x="526.2" y="1103.6" textLength="94.7" lengthAdjust="spacingAndGlyphs">CLARIFY</text>
<text class="lb" x="525.1" y="1178.2" textLength="135.8" lengthAdjust="spacingAndGlyphs">ELABORATE</text>
<text class="lb" x="525.1" y="1245.8" textLength="50.0" lengthAdjust="spacingAndGlyphs">END</text>
<text class="lb" x="525.1" y="1290.0" textLength="70.5" lengthAdjust="spacingAndGlyphs">PIVOT</text>
<text class="lb" x="525.1" y="1335.9" textLength="123.3" lengthAdjust="spacingAndGlyphs">REL TOPIC</text>
<text class="lb" x="973.5" y="936.4" textLength="142.1" lengthAdjust="spacingAndGlyphs">ANSWER CQ</text>
<text class="lb" x="972.6" y="1091.5" textLength="50.0" lengthAdjust="spacingAndGlyphs">END</text>
<text class="lb" x="973.7" y="1173.6" textLength="94.7" lengthAdjust="spacingAndGlyphs">CLARIFY</text>
<text class="lb" x="972.6" y="1223.7" textLength="135.8" lengthAdjust="spacingAndGlyphs">ELABORATE</text>
<text class="lb" x="972.5" y="1280.9" textLength="123.3" lengthAdjust="spacingAndGlyphs">REL TOPIC</text>
<text class="lb" x="973.7" y="1323.9" textLength="112.3" lengthAdjust="spacingAndGlyphs">COMPARE</text>
<text class="lb" x="972.5" y="1351.7" textLength="70.5" lengthAdjust="spacingAndGlyphs">PIVOT</text>
<text class="lb" x="1421.0" y="877.1" textLength="142.1" lengthAdjust="spacingAndGlyphs">ANSWER CQ</text>
<text class="lb" x="1420.0" y="1028.9" textLength="50.0" lengthAdjust="spacingAndGlyphs">END</text>
<text class="lb" x="1421.1" y="1144.8" textLength="94.7" lengthAdjust="spacingAndGlyphs">CLARIFY</text>
<text class="lb" x="1420.0" y="1193.5" textLength="135.8" lengthAdjust="spacingAndGlyphs">ELABORATE</text>
<text class="lb" x="1420.0" y="1244.6" textLength="123.3" lengthAdjust="spacingAndGlyphs">REL TOPIC</text>
<text class="lb" x="1421.1" y="1281.4" textLength="112.3" lengthAdjust="spacingAndGlyphs">COMPARE</text>
<text class="lb" x="1420.0" y="1311.4" textLength="127.4" lengthAdjust="spacingAndGlyphs">NEXT STEP</text>
<text class="lb" x="1420.0" y="1346.8" textLength="70.5" lengthAdjust="spacingAndGlyphs">PIVOT</text>
<text class="lb" x="1694.3" y="913.4" textLength="142.1" lengthAdjust="spacingAndGlyphs">ANSWER CQ</text>
<text class="lb" x="1786.5" y="1085.5" textLength="50.0" lengthAdjust="spacingAndGlyphs">END</text>
<text class="lb" x="1764.6" y="1225.6" textLength="70.5" lengthAdjust="spacingAndGlyphs">PIVOT</text>
<text class="lb" x="1700.8" y="1266.1" textLength="135.8" lengthAdjust="spacingAndGlyphs">ELABORATE</text>
<text class="lb" x="1713.1" y="1311.8" textLength="123.3" lengthAdjust="spacingAndGlyphs">REL TOPIC</text>
<text class="lb" x="1740.4" y="1348.8" textLength="94.7" lengthAdjust="spacingAndGlyphs">CLARIFY</text></g>
</g>
<g class="softt">
<text class="tt tb" x="31.1" y="55" textLength="274.1" lengthAdjust="spacingAndGlyphs">Baseline AI</text>
<text class="tt" x="303.2" y="55" textLength="421.9" lengthAdjust="spacingAndGlyphs">: Conversation Flow</text>
<text class="tt tb" x="33.0" y="746.8" textLength="340.4" lengthAdjust="spacingAndGlyphs">Wayfinding AI</text>
<text class="tt" x="373.4" y="746.8" textLength="420.7" lengthAdjust="spacingAndGlyphs">: Conversation Flow</text>
<text class="mx" x="1522.5" y="58.2" textLength="339.7" lengthAdjust="spacingAndGlyphs">Max 5 Turns</text>
</g>
</svg>
</body>
</html>
